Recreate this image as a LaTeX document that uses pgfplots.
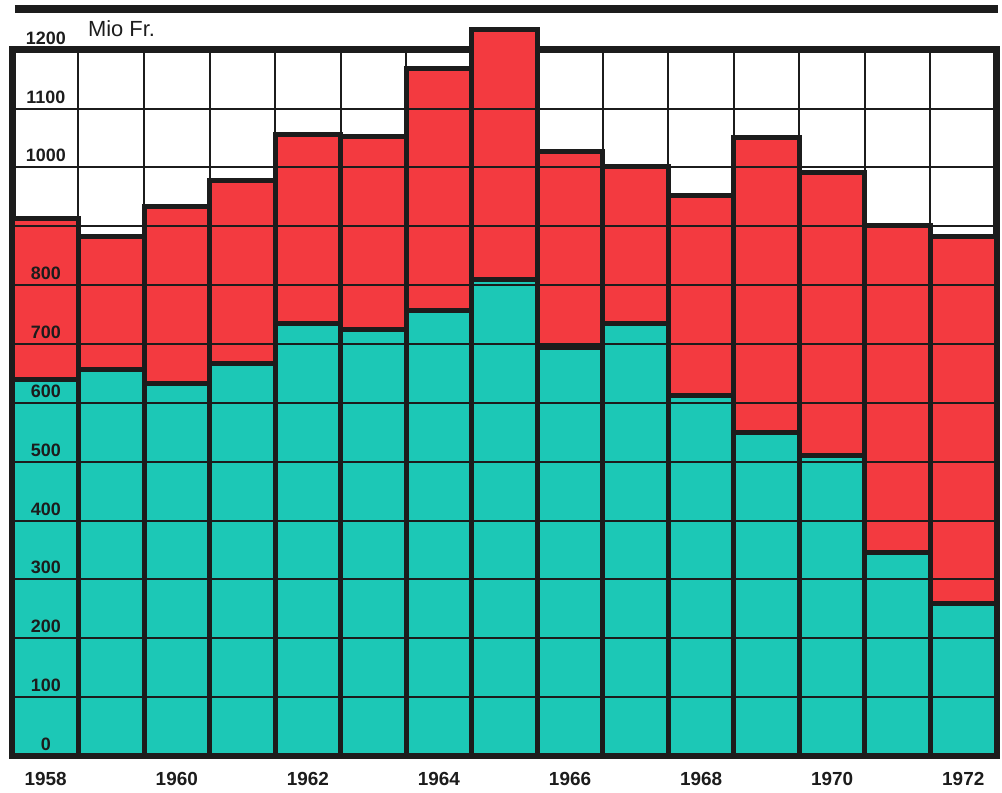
\documentclass[border=0pt]{standalone}
\usepackage{pgfplots}
\pgfplotsset{compat=1.18}
\usepackage{pgfplotstable}
\usepackage{fontspec}
\setmainfont{Liberation Sans}
\definecolor{tealbar}{RGB}{28,200,182}
\definecolor{redbar}{RGB}{243,58,64}
\definecolor{ink}{RGB}{28,28,28}
\pgfplotstableread{
x teal red
0  640 273
1  657 226
2  633 301
3  667 311
4  735 321
5  724 328
6  757 411
7  809 425
8  694 333
9  735 267
10 613 340
11 550 501
12 511 481
13 345 557
14 259 623
}\data
\begin{document}
\begin{tikzpicture}
\begin{axis}[
  axis on top,
  scale only axis, width=493.5pt, height=354.5pt,
  xmin=-0.5, xmax=14.5, ymin=0, ymax=1200,
  enlarge x limits=false,
  ybar stacked, bar width=1,
  axis line style={draw=none},
  axis background/.style={draw=ink, line width=3.5pt, fill=white},
  xtick={0,2,...,14},
  xticklabels={1958,1960,1962,1964,1966,1968,1970,1972},
  minor xtick={0.5,1.5,...,13.5},
  xminorgrids=true, xmajorgrids=false,
  ytick={0,100,...,1100}, ymajorgrids=true,
  yticklabels={0,100,200,300,400,500,600,700,800,,1000,1100},
  extra y ticks={1200}, extra y tick labels={1200},
  extra y tick style={grid=none},
  major grid style={line width=1pt, ink},
  minor grid style={line width=1pt, ink},
  major tick length=0pt, minor tick length=0pt,
  yticklabel style={anchor=south, inner sep=0pt, xshift=16.5pt, yshift=2.5pt, font=\bfseries\fontsize{9}{10}\selectfont, text=ink},
  xticklabel style={anchor=north, inner sep=0pt, yshift=-8pt, font=\bfseries\fontsize{9.5}{10}\selectfont, text=ink},
  clip=false,
]
\addplot[fill=tealbar, draw=ink, line width=2.5pt] table[x=x, y=teal] {\data};
\addplot[fill=redbar, draw=ink, line width=2.5pt] table[x=x, y=red] {\data};
% left, bottom, right frame lines, above the bars
\draw[line width=3.5pt, ink, line cap=rect, line join=miter] (rel axis cs:0,1) -- (rel axis cs:0,0) -- (rel axis cs:1,0) -- (rel axis cs:1,1);
\node[anchor=south west, inner sep=0pt, font=\fontsize{11}{12}\selectfont, text=ink] at ([yshift=6.5pt]rel axis cs:0.076,1) {Mio Fr.};
\draw[line width=4pt, ink] ([xshift=1pt,yshift=20.25pt]rel axis cs:0,1) -- ([xshift=1pt,yshift=20.25pt]rel axis cs:1,1);
\path ([xshift=-6.5pt,yshift=-18.5pt]rel axis cs:0,0) rectangle ([xshift=1pt,yshift=25pt]rel axis cs:1,1);
\end{axis}
\end{tikzpicture}
\end{document}
